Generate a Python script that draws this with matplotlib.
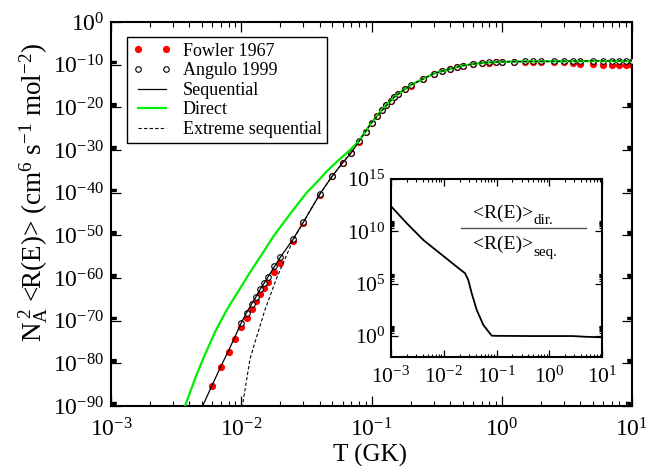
import numpy as np
import matplotlib
matplotlib.use('Agg')
import matplotlib.pyplot as plt
from matplotlib.ticker import FixedLocator, FuncFormatter, NullFormatter
from matplotlib.lines import Line2D

plt.rcParams['font.family'] = ['Liberation Serif', 'DejaVu Serif']
plt.rcParams['mathtext.fontset'] = 'custom'
plt.rcParams['mathtext.rm'] = 'Liberation Serif'
plt.rcParams['mathtext.it'] = 'Liberation Serif:italic'
plt.rcParams['mathtext.bf'] = 'Liberation Serif:bold'

# ---------------- data (T in GK, rates as log10 values) ----------------
t_fowler = [0.006, 0.007, 0.008, 0.009, 0.01, 0.011, 0.012, 0.013, 0.014, 0.015,
            0.016, 0.018, 0.02, 0.025, 0.03, 0.04, 0.05, 0.06, 0.07, 0.08, 0.09,
            0.1, 0.11, 0.12, 0.13, 0.14, 0.15, 0.16, 0.18, 0.2, 0.25, 0.3, 0.35,
            0.4, 0.45, 0.5, 0.6, 0.7, 0.8, 0.9, 1.0, 1.25, 1.5, 1.75, 2.0, 2.5,
            3.0, 3.5, 4.0, 5.0, 6.0, 7.0, 8.0, 9.0, 10.0]
log_fowler = [-85.3, -80.9, -77.3, -74.3, -71.6, -69.4, -67.3, -65.5, -63.7, -62.3,
              -61.0, -58.5, -56.4, -51.3, -47.2, -40.5, -36.2, -33.1, -30.7, -28.1, -25.8,
              -23.7, -22.1, -20.7, -19.5, -18.5, -17.6, -16.9, -15.8, -14.9, -13.4, -12.2, -11.5,
              -11.0, -10.6, -10.3, -9.85, -9.65, -9.5, -9.45, -9.4, -9.35, -9.33, -9.33, -9.33, -9.35,
              -9.45, -9.6, -9.75, -9.8, -10.0, -10.1, -10.1, -10.15, -10.15]

t_angulo = [0.01, 0.011, 0.012, 0.013, 0.014, 0.015, 0.016, 0.018, 0.02, 0.025,
            0.03, 0.04, 0.05, 0.06, 0.07, 0.08, 0.09, 0.1, 0.11, 0.12, 0.13, 0.14,
            0.15, 0.16, 0.18, 0.2, 0.25, 0.3, 0.35, 0.4, 0.45, 0.5, 0.6, 0.7, 0.8,
            0.9, 1.0, 1.25, 1.5, 1.75, 2.0, 2.5, 3.0, 3.5, 4.0, 5.0, 6.0, 7.0, 8.0,
            9.0, 10.0]
log_angulo = [-70.5, -68.1, -66.1, -64.4, -62.6, -61.2, -59.8, -57.3, -55.1, -50.9,
              -46.9, -40.4, -36.1, -33.0, -30.6, -28.0, -25.7, -23.6, -22.0, -20.6, -19.4, -18.4,
              -17.5, -16.8, -15.7, -14.8, -13.3, -12.1, -11.4, -10.9, -10.5, -10.2, -9.8, -9.6, -9.45,
              -9.4, -9.32, -9.27, -9.25, -9.24, -9.23, -9.22, -9.2, -9.2, -9.2, -9.1, -9.1, -9.1, -9.1,
              -9.1, -9.1]

t_seq = [0.0048, 0.005, 0.006, 0.007, 0.008, 0.009, 0.01, 0.011, 0.012, 0.013, 0.014,
         0.015, 0.016, 0.018, 0.02, 0.025, 0.03, 0.04, 0.05, 0.06, 0.07, 0.08, 0.09,
         0.1, 0.11, 0.12, 0.13, 0.14, 0.15, 0.16, 0.18, 0.2, 0.25, 0.3, 0.35, 0.4,
         0.45, 0.5, 0.6, 0.7, 0.8, 0.9, 1.0, 1.25, 1.5, 1.75, 2.0, 2.5, 3.0, 3.5,
         4.0, 5.0, 6.0, 7.0, 8.0, 9.0, 10.0]
log_seq = [-91.6, -90.3, -85.0, -80.6, -77.0, -73.6, -70.5, -68.1, -66.1, -64.4, -62.6,
           -61.2, -59.8, -57.3, -55.1, -50.9, -46.9, -40.4, -36.1, -33.0, -30.6, -28.0, -25.7,
           -23.6, -22.0, -20.6, -19.4, -18.4, -17.5, -16.8, -15.7, -14.8, -13.3, -12.1, -11.4, -10.9,
           -10.5, -10.2, -9.8, -9.6, -9.45, -9.4, -9.32, -9.27, -9.25, -9.24, -9.23, -9.22, -9.2, -9.2,
           -9.2, -9.1, -9.1, -9.1, -9.1, -9.1, -9.1]

t_direct = [0.00355, 0.0037, 0.00447, 0.00512, 0.0063, 0.00773, 0.01, 0.01167, 0.0141,
            0.0176, 0.0251, 0.0318, 0.0398, 0.0453, 0.0562, 0.0684, 0.08, 0.09, 0.1,
            0.12, 0.15, 0.2, 0.3, 0.5, 0.7, 1.0, 1.5, 2.0, 3.0, 5.0, 7.0, 10.0]
log_direct = [-91.5, -90.0, -83.2, -78.8, -72.6, -67.5, -62.0, -58.7, -54.9,
              -50.3, -44.0, -40.0, -36.9, -35.0, -32.3, -30.0, -27.9, -25.6, -23.6,
              -20.6, -17.5, -14.8, -12.1, -10.2, -9.6, -9.32, -9.25, -9.23, -9.22, -9.15, -9.15, -9.15]

t_extreme = [0.0099, 0.0102, 0.01167, 0.01276, 0.0152, 0.0187, 0.0199, 0.0251, 0.03,
             0.04, 0.05, 0.06, 0.07, 0.08, 0.1, 0.15, 0.2, 0.3, 0.5, 0.7, 1.0, 2.0,
             3.0, 5.0, 10.0]
log_extreme = [-93.0, -90.0, -79.0, -75.0, -67.5, -60.0, -58.1, -51.0, -46.9,
               -40.4, -36.1, -33.0, -30.6, -28.0, -23.6, -17.5, -14.8, -12.1, -10.2, -9.6, -9.32, -9.23,
               -9.2, -9.1, -9.1]

t_ratio = [0.001, 0.00199, 0.00411, 0.00849, 0.0176, 0.0253, 0.0292, 0.0339, 0.0422,
           0.0562, 0.081, 0.1, 0.5, 2.8, 5.0, 10.0]
log_ratio = [12.4, 10.77, 9.17, 7.90, 6.62, 6.0, 5.35, 4.08, 2.49,
             1.06, 0.04, 0.02, 0.0, 0.0, -0.07, -0.12]

main_xticks = [-3, -2, -1, 0, 1]
main_yticks = [-90, -80, -70, -60, -50, -40, -30, -20, -10, 0]
inset_yticks = [0, 5, 10, 15]

GREEN = '#00ee00'
RED = '#ff0000'


def p10(a):
    return 10.0 ** np.asarray(a, dtype=float)


def sci(v, pos):
    e = int(round(np.log10(v)))
    return r'$\mathdefault{10^{%d}}$' % e


fig = plt.figure(figsize=(6.49, 4.66), dpi=100)
ax = fig.add_axes([111 / 649, 1 - 406 / 466, 521 / 649, 384 / 466])

ax.plot(t_fowler, p10(log_fowler), 'o', color=RED, ms=5.2, mec=RED, mew=0,
        zorder=2, label='Fowler 1967')
ax.plot(t_angulo, p10(log_angulo), 'o', mfc='white', mec='black', ms=4.0, mew=0.8,
        zorder=3, label='Angulo 1999')
ax.plot(t_seq, p10(log_seq), '-', color='black', lw=0.9, zorder=4, label='Sequential')
ax.plot(t_direct, p10(log_direct), '-', color=GREEN, lw=1.6, zorder=4, label='Direct')
ax.plot(t_extreme, p10(log_extreme), '--', color='black', lw=0.8, dashes=(3, 2),
        zorder=4, label='Extreme sequential')

ax.set_xscale('log')
ax.set_yscale('log')
ax.set_xlim(1e-3, 1e1)
ax.set_ylim(1e-90, 1e0)

ax.xaxis.set_major_locator(FixedLocator(p10(main_xticks)))
ax.xaxis.set_minor_locator(FixedLocator([m * 10.0 ** k for k in main_xticks[:-1] for m in range(2, 10)]))
ax.yaxis.set_major_locator(FixedLocator(p10(main_yticks)))
ax.yaxis.set_minor_locator(FixedLocator([m * 10.0 ** k for k in main_yticks[:-1] for m in range(2, 10)]))
ax.xaxis.set_major_formatter(FuncFormatter(sci))
ax.yaxis.set_major_formatter(FuncFormatter(sci))
ax.xaxis.set_minor_formatter(NullFormatter())
ax.yaxis.set_minor_formatter(NullFormatter())
ax.tick_params(which='both', direction='in', top=True, right=True, labelsize=17)
ax.tick_params(axis='x', which='major', pad=8.5)
ax.tick_params(axis='y', which='major', pad=5)
ax.tick_params(which='major', length=7.2, width=0.9)
ax.tick_params(which='minor', length=3.6, width=0.8)
for s in ax.spines.values():
    s.set_linewidth(1.5)

ax.set_xlabel('T (GK)', fontsize=18)
ax.xaxis.set_label_coords(0.497, -0.1)
ax.set_ylabel(r'N$_{\mathrm{A}}^{\;2}$ <R(E)> (cm$^{6}$ s$^{-1}$ mol$^{-2}$)', fontsize=19.5)
ax.yaxis.set_label_coords(-0.115, 0.555)

leg = ax.legend(loc='upper left', bbox_to_anchor=(0.0307, 0.960), borderaxespad=0,
                fancybox=False, edgecolor='black', framealpha=1, fontsize=13,
                numpoints=2, handlelength=2.15, handletextpad=0.65, labelspacing=0.14,
                borderpad=0.3)
leg.get_frame().set_linewidth(1.0)

# ---------------- inset ----------------
ax_in = fig.add_axes([391 / 649, 1 - 357 / 466, 211 / 649, 178 / 466])
ax_in.plot(t_ratio, p10(log_ratio), '-', color='black', lw=1.3)
ax_in.set_xscale('log')
ax_in.set_yscale('log')
ax_in.set_xlim(1e-3, 1e1)
ax_in.set_ylim(1e-2, 1e15)
ax_in.xaxis.set_major_locator(FixedLocator(p10(main_xticks)))
ax_in.xaxis.set_minor_locator(FixedLocator([m * 10.0 ** k for k in main_xticks[:-1] for m in range(2, 10)]))
ax_in.yaxis.set_major_locator(FixedLocator(p10(inset_yticks)))
ax_in.yaxis.set_minor_locator(FixedLocator([m * 10.0 ** k for k in inset_yticks[:-1] for m in range(2, 10)]))
ax_in.xaxis.set_major_formatter(FuncFormatter(sci))
ax_in.yaxis.set_major_formatter(FuncFormatter(sci))
ax_in.xaxis.set_minor_formatter(NullFormatter())
ax_in.yaxis.set_minor_formatter(NullFormatter())
ax_in.tick_params(which='both', direction='in', top=True, right=True, labelsize=15.5)
ax_in.tick_params(axis='x', which='major', pad=7)
ax_in.tick_params(axis='y', which='major', pad=4)
ax_in.tick_params(which='major', length=5, width=0.9)
ax_in.tick_params(which='minor', length=2.5, width=0.8)
for s in ax_in.spines.values():
    s.set_linewidth(1.5)

ax_in.text(0.389, 0.783, '<R(E)>', transform=ax_in.transAxes,
           fontsize=14, ha='left', va='baseline')
ax_in.text(0.675, 0.745, 'dir.', transform=ax_in.transAxes,
           fontsize=11, ha='left', va='baseline')
ax_in.text(0.389, 0.607, '<R(E)>', transform=ax_in.transAxes,
           fontsize=14, ha='left', va='baseline')
ax_in.text(0.675, 0.565, 'seq.', transform=ax_in.transAxes,
           fontsize=11, ha='left', va='baseline')
ax_in.add_line(Line2D([0.330, 0.923], [0.726, 0.726], transform=ax_in.transAxes,
                      color='#555555', lw=1.0))

fig.savefig('out.png', dpi=100)
